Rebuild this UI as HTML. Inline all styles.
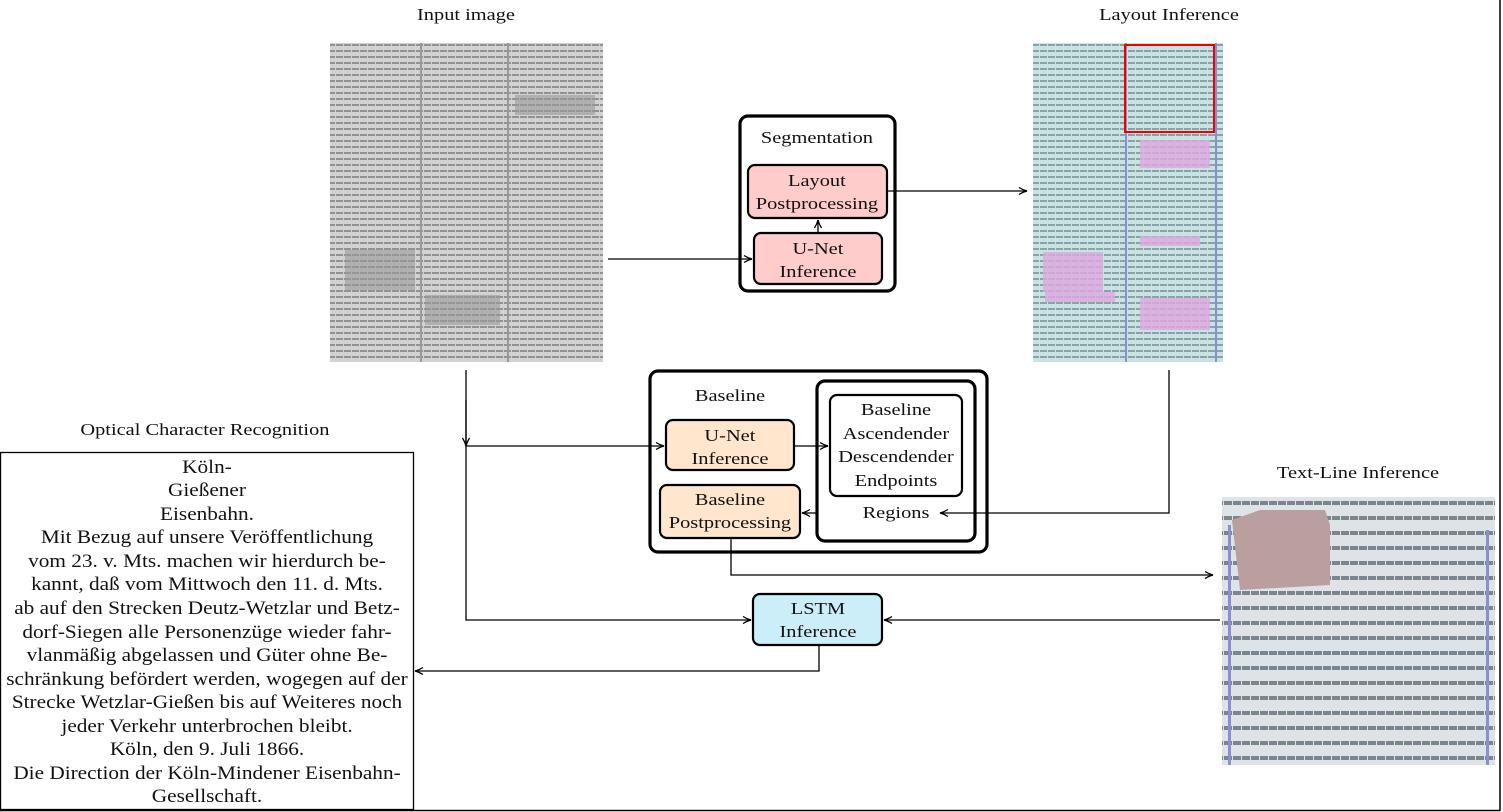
<!DOCTYPE html>
<html><head><meta charset="utf-8"><style>
html,body{margin:0;padding:0;background:#fff;}
svg{display:block;}
text{font-family:"Liberation Serif",serif;fill:#111;transform-box:fill-box;transform-origin:center;transform:scaleX(1.2);}
.ocr text{transform:scaleX(1.12);}
</style></head><body>
<svg width="1503" height="812" viewBox="0 0 1503 812" xmlns="http://www.w3.org/2000/svg">
<defs>
<pattern id="txt" width="8" height="6" patternUnits="userSpaceOnUse">
<rect width="8" height="6" fill="#d2d2d2"/><rect y="2" width="7" height="2" fill="#929292"/>
</pattern>
<pattern id="txt2" width="8" height="6" patternUnits="userSpaceOnUse">
<rect width="8" height="6" fill="#c9e2e3"/><rect y="2" width="7" height="2" fill="#8aa4a6"/>
</pattern>
<pattern id="txt3" width="9" height="15" patternUnits="userSpaceOnUse">
<rect width="9" height="15" fill="#dde3e7"/><rect y="6" width="8" height="4" fill="#7a858d"/>
</pattern>
<marker id="ar" markerWidth="10" markerHeight="10" refX="9" refY="5" orient="auto" markerUnits="userSpaceOnUse">
<path d="M1,1.5 Q5,4 9,5 Q5,6 1,8.5" fill="none" stroke="#000" stroke-width="1.3"/>
</marker>
</defs>

<line x1="1500" y1="0" x2="1500" y2="811" stroke="#000" stroke-width="1.5"/>
<line x1="0" y1="810.5" x2="1500" y2="810.5" stroke="#000" stroke-width="1.5"/>

<text x="466" y="20" font-size="17" text-anchor="middle">Input image</text>
<text x="1169" y="20" font-size="17" text-anchor="middle">Layout Inference</text>
<text x="205" y="435" font-size="17" text-anchor="middle">Optical Character Recognition</text>
<text x="1358" y="478" font-size="17" text-anchor="middle">Text-Line Inference</text>

<rect x="330" y="43" width="273" height="319" fill="url(#txt)"/>
<rect x="420" y="43" width="2" height="319" fill="#999"/>
<rect x="507" y="43" width="2" height="319" fill="#999"/>
<rect x="345" y="250" width="70" height="40" fill="#9a9a9a" opacity="0.6"/>
<rect x="515" y="95" width="80" height="20" fill="#999" opacity="0.6"/>
<rect x="425" y="295" width="75" height="30" fill="#999" opacity="0.6"/>

<rect x="1033" y="43" width="190" height="319" fill="url(#txt2)"/>
<rect x="1125" y="43" width="2" height="319" fill="#8a8fd0"/>
<rect x="1215" y="43" width="2" height="319" fill="#8a8fd0"/>
<rect x="1043" y="252" width="60" height="40" fill="#e0a8e0" opacity="0.8"/>
<rect x="1140" y="140" width="70" height="28" fill="#e0a8e0" opacity="0.8"/>
<rect x="1140" y="298" width="70" height="32" fill="#e0a8e0" opacity="0.8"/>
<rect x="1140" y="236" width="60" height="10" fill="#e0a8e0" opacity="0.8"/>
<rect x="1045" y="292" width="70" height="10" fill="#e0a8e0" opacity="0.8"/>
<rect x="1125" y="45" width="89" height="87" fill="none" stroke="#e00" stroke-width="2"/>

<rect x="1222" y="497" width="273" height="268" fill="url(#txt3)"/>
<path d="M1232,520 L1260,510 L1325,510 L1330,525 L1330,585 L1240,590 Z" fill="#b9a09e"/>
<rect x="1228" y="525" width="3" height="240" fill="#8a8fd0"/>
<rect x="1486" y="530" width="3" height="235" fill="#8a8fd0"/>

<rect x="740" y="116" width="155" height="175" rx="8" fill="#fff" stroke="#000" stroke-width="3.2"/>
<text x="817" y="143" font-size="17" text-anchor="middle">Segmentation</text>
<rect x="748" y="165" width="139" height="53" rx="7" fill="#ffcccc" stroke="#000" stroke-width="2.2"/>
<text x="817" y="186" font-size="17" text-anchor="middle">Layout</text>
<text x="817" y="209" font-size="17" text-anchor="middle">Postprocessing</text>
<rect x="754" y="233" width="128" height="51" rx="7" fill="#ffcccc" stroke="#000" stroke-width="2.2"/>
<text x="818" y="254" font-size="17" text-anchor="middle">U-Net</text>
<text x="818" y="277" font-size="17" text-anchor="middle">Inference</text>
<line x1="818" y1="233" x2="818" y2="220" stroke="#000" stroke-width="1.3" marker-end="url(#ar)"/>

<rect x="650" y="371" width="337" height="181" rx="8" fill="#fff" stroke="#000" stroke-width="3.2"/>
<text x="730" y="401" font-size="17" text-anchor="middle">Baseline</text>
<rect x="817" y="381" width="158" height="160" rx="8" fill="#fff" stroke="#000" stroke-width="3.2"/>
<rect x="830" y="395" width="132" height="101" rx="7" fill="#fff" stroke="#000" stroke-width="2.2"/>
<text x="896" y="415" font-size="17" text-anchor="middle">Baseline</text>
<text x="896" y="439" font-size="17" text-anchor="middle">Ascendender</text>
<text x="896" y="462" font-size="17" text-anchor="middle">Descendender</text>
<text x="896" y="486" font-size="17" text-anchor="middle">Endpoints</text>
<text x="896" y="518" font-size="17" text-anchor="middle">Regions</text>
<rect x="666" y="420" width="128" height="50" rx="7" fill="#ffe6cc" stroke="#000" stroke-width="2.2"/>
<text x="730" y="441" font-size="17" text-anchor="middle">U-Net</text>
<text x="730" y="464" font-size="17" text-anchor="middle">Inference</text>
<rect x="660" y="485" width="140" height="53" rx="7" fill="#ffe6cc" stroke="#000" stroke-width="2.2"/>
<text x="730" y="505" font-size="17" text-anchor="middle">Baseline</text>
<text x="730" y="528" font-size="17" text-anchor="middle">Postprocessing</text>

<rect x="753" y="594" width="129" height="51" rx="7" fill="#cceef9" stroke="#000" stroke-width="2.2"/>
<text x="818" y="614" font-size="17" text-anchor="middle">LSTM</text>
<text x="818" y="637" font-size="17" text-anchor="middle">Inference</text>

<rect x="0.5" y="452.5" width="413" height="357" fill="#fff" stroke="#000" stroke-width="1.3"/>
<g class="ocr" font-size="19" text-anchor="middle">
<text x="207" y="473">Köln-</text>
<text x="207" y="496">Gießener</text>
<text x="207" y="520">Eisenbahn.</text>
<text x="207" y="543">Mit Bezug auf unsere Veröffentlichung</text>
<text x="207" y="567">vom 23. v. Mts. machen wir hierdurch be-</text>
<text x="207" y="590">kannt, daß vom Mittwoch den 11. d. Mts.</text>
<text x="207" y="614">ab auf den Strecken Deutz-Wetzlar und Betz-</text>
<text x="207" y="638">dorf-Siegen alle Personenzüge wieder fahr-</text>
<text x="207" y="661">vlanmäßig abgelassen und Güter ohne Be-</text>
<text x="207" y="685">schränkung befördert werden, wogegen auf der</text>
<text x="207" y="708">Strecke Wetzlar-Gießen bis auf Weiteres noch</text>
<text x="207" y="732">jeder Verkehr unterbrochen bleibt.</text>
<text x="207" y="755">Köln, den 9. Juli 1866.</text>
<text x="207" y="779">Die Direction der Köln-Mindener Eisenbahn-</text>
<text x="207" y="802">Gesellschaft.</text>
</g>

<g fill="none" stroke="#000" stroke-width="1.3">
<line x1="608" y1="259" x2="752" y2="259" marker-end="url(#ar)"/>
<line x1="887" y1="191" x2="1027" y2="191" marker-end="url(#ar)"/>
<polyline points="466,370 466,620 751,620" marker-end="url(#ar)"/>
<line x1="466" y1="400" x2="466" y2="446" marker-end="url(#ar)"/>
<line x1="466" y1="446" x2="664" y2="446" marker-end="url(#ar)"/>
<line x1="794" y1="446" x2="828" y2="446" marker-end="url(#ar)"/>
<line x1="817" y1="513" x2="802" y2="513" marker-end="url(#ar)"/>
<polyline points="1169,370 1169,513 940,513" marker-end="url(#ar)"/>
<polyline points="731,538 731,575 1213,575" marker-end="url(#ar)"/>
<line x1="1220" y1="620" x2="884" y2="620" marker-end="url(#ar)"/>
<polyline points="819,645 819,671 415,671" marker-end="url(#ar)"/>
</g>
</svg>
</body></html>
